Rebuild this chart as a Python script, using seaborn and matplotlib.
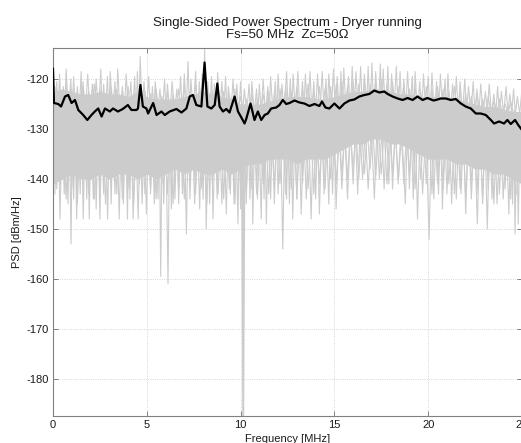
import numpy as np
import pandas as pd
import matplotlib
matplotlib.use("Agg")
import matplotlib.pyplot as plt
import seaborn as sns

# ---------------- data ----------------
# mean PSD (black curve)
mean_f = [0.00, 0.05, 0.28, 0.43, 0.64, 0.81, 0.99, 1.17, 1.35, 1.61, 1.83, 2.05, 2.23, 2.41,
          2.59, 2.77, 3.03, 3.20, 3.46, 3.72, 3.99, 4.18, 4.45, 4.53, 4.66, 4.79, 4.98, 5.07,
          5.34, 5.52, 5.78, 5.96, 6.22, 6.58, 6.85, 7.11, 7.29, 7.46, 7.64, 7.91, 8.08, 8.23,
          8.44, 8.62, 8.76, 8.88, 9.06, 9.24, 9.41, 9.68, 9.86, 10.07, 10.21, 10.30, 10.53,
          10.74, 10.92, 11.10, 11.28, 11.45, 11.63, 11.90, 12.07, 12.25, 12.43, 12.61, 12.87,
          13.14, 13.40, 13.67, 13.94, 14.20, 14.34, 14.52, 14.73, 15.00, 15.27, 15.53, 15.80,
          16.06, 16.33, 16.60, 16.86, 17.13, 17.39, 17.66, 17.84, 18.10, 18.37, 18.64, 18.90,
          19.17, 19.43, 19.70, 19.96, 20.28, 20.41, 20.67, 20.94, 21.20, 21.47, 21.74, 22.00,
          22.27, 22.54, 22.80, 23.07, 23.34, 23.51, 23.78, 24.04, 24.22, 24.40, 24.63, 24.80,
          25.00]
mean_v = [-117.9, -124.8, -125.0, -125.5, -123.5, -123.2, -124.8, -124.2, -126.2, -127.2,
          -128.2, -127.2, -126.5, -125.9, -127.5, -125.9, -126.5, -125.9, -126.5, -126.0,
          -125.2, -126.2, -126.2, -125.9, -121.2, -125.5, -125.9, -126.9, -124.8, -127.2,
          -126.5, -127.2, -126.5, -126.0, -126.7, -125.9, -123.5, -123.2, -125.2, -125.5,
          -116.7, -125.5, -125.9, -125.2, -120.9, -125.5, -126.5, -126.0, -126.7, -123.5,
          -126.5, -127.9, -128.9, -128.0, -124.9, -128.2, -126.5, -128.2, -127.2, -126.9,
          -125.9, -125.7, -125.2, -124.2, -125.0, -124.8, -124.3, -124.7, -124.9, -125.4,
          -125.0, -125.4, -124.5, -125.7, -125.9, -124.9, -125.9, -124.9, -124.3, -124.1,
          -123.5, -123.2, -123.0, -122.3, -122.7, -122.5, -123.0, -123.5, -123.9, -124.2,
          -123.8, -124.2, -123.5, -124.2, -123.8, -124.3, -124.2, -123.9, -123.9, -124.2,
          -124.0, -124.9, -125.5, -125.9, -126.9, -126.9, -127.2, -128.2, -128.9, -128.5,
          -128.9, -128.2, -129.0, -128.2, -129.2, -130.2]

# dense part of the individual spectra (grey band), 0.5 MHz grid
band_f = np.arange(0, 25.01, 0.5)
band_top = [-122.5, -122.0, -122.5, -123.0, -123.0, -122.5, -123.0, -123.0, -123.5, -122.5,
            -123.5, -124.0, -124.0, -124.0, -123.5, -123.0, -122.5, -123.0, -123.5, -124.0,
            -125.0, -125.0, -125.0, -124.5, -124.0, -123.5, -123.5, -123.5, -124.0, -124.0,
            -123.5, -123.0, -122.5, -122.5, -122.0, -122.0, -122.5, -123.0, -123.0, -123.5,
            -123.5, -123.5, -123.5, -124.0, -124.5, -125.0, -125.5, -125.5, -126.0, -126.5,
            -126.5]
band_bottom = [-141, -140, -139, -140, -140, -139, -140, -139, -139, -140,
               -139, -140, -139, -138, -139, -138, -139, -139, -138, -139,
               -138, -137, -137, -136, -136, -136, -137, -136, -136, -136,
               -135, -134, -133, -133, -132, -132, -133, -133, -134, -135,
               -136, -136, -136, -137, -137, -138, -138, -139, -139, -140, -141]

# upper extremes of the individual spectra
top_f = [0.0, 0.2, 0.35, 0.55, 0.7, 0.95, 1.1, 1.3, 1.5, 1.6, 1.85, 2.1, 2.3, 2.55, 2.7, 2.9,
         3.05, 3.3, 3.45, 3.7, 3.9, 4.15, 4.35, 4.5, 4.65, 4.85, 5.1, 5.3, 5.45, 5.7, 5.95,
         6.1, 6.35, 6.6, 6.8, 7.0, 7.2, 7.35, 7.6, 7.8, 7.95, 8.08, 8.25, 8.45, 8.6, 8.78,
         9.0, 9.2, 9.35, 9.6, 9.8, 10.0, 10.2, 10.45, 10.6, 10.85, 11.0, 11.2, 11.45, 11.6,
         11.85, 12.0, 12.2, 12.45, 12.65, 12.8, 13.05, 13.3, 13.45, 13.7, 13.9, 14.1, 14.35,
         14.55, 14.7, 14.95, 15.15, 15.35, 15.5, 15.75, 15.95, 16.15, 16.4, 16.6, 16.8, 17.0,
         17.2, 17.45, 17.6, 17.85, 18.05, 18.3, 18.5, 18.7, 18.9, 19.15, 19.3, 19.55, 19.75,
         20.0, 20.2, 20.45, 20.65, 20.9, 21.05, 21.3, 21.5, 21.7, 21.95, 22.15, 22.4, 22.6,
         22.8, 23.05, 23.25, 23.5, 23.7, 23.9, 24.15, 24.35, 24.55, 24.75, 25.0]
top_v = [-117.5, -120.5, -119.0, -121.5, -118.0, -120.0, -119.5, -121.5, -118.5, -120.5,
         -119.0, -121.0, -120.0, -118.0, -121.0, -119.5, -118.5, -120.5, -118.0, -121.5,
         -119.0, -120.5, -119.5, -118.5, -115.5, -120.5, -119.5, -121.5, -120.5, -122.0,
         -120.0, -121.0, -120.5, -122.0, -119.5, -119.0, -116.5, -120.0, -118.5, -120.5,
         -119.0, -114.0, -120.5, -119.5, -121.0, -118.7, -120.5, -119.5, -121.5, -120.0,
         -121.0, -120.5, -122.0, -121.0, -120.5, -122.0, -121.0, -120.0, -121.5, -119.5,
         -120.5, -119.0, -121.0, -118.5, -120.0, -119.0, -118.5, -120.5, -119.0, -118.5,
         -120.5, -119.0, -118.5, -120.0, -119.0, -118.0, -119.5, -118.5, -117.8, -119.5,
         -117.5, -118.5, -117.5, -119.0, -117.5, -116.8, -118.5, -117.0, -118.0, -117.5,
         -119.0, -117.5, -118.5, -120.0, -118.5, -119.5, -118.5, -120.5, -119.0, -119.5,
         -118.8, -120.5, -119.0, -120.0, -119.0, -121.0, -119.5, -120.5, -120.0, -121.5,
         -120.5, -122.0, -121.0, -122.5, -121.0, -123.0, -121.5, -122.5, -121.5, -123.0,
         -122.0, -123.5, -122.0]

# second layer of upper values (0.3 MHz spacing)
top2_f = np.round(np.arange(0.1, 24.71, 0.3), 2)
top2_v = [-121.5, -122.5, -121.0, -122.0, -123.0, -121.5, -122.5, -121.0, -122.0, -123.0,
          -121.5, -122.0, -122.5, -121.5, -123.0, -122.0, -122.5, -123.0, -122.0, -123.5,
          -122.5, -123.0, -122.0, -121.5, -122.5, -121.0, -122.0, -123.0, -122.5, -121.5,
          -122.5, -123.0, -122.0, -123.5, -124.0, -123.0, -124.0, -123.0, -122.5, -123.0,
          -122.0, -121.5, -122.5, -121.5, -122.0, -121.0, -122.5, -121.5, -122.0, -121.5,
          -121.0, -120.5, -121.5, -120.5, -121.0, -120.0, -121.0, -120.5, -120.0, -121.0,
          -120.5, -121.5, -121.0, -122.0, -121.5, -122.5, -121.5, -122.0, -121.5, -122.0,
          -122.5, -121.5, -122.5, -123.0, -123.5, -123.0, -124.0, -123.5, -124.5, -124.0,
          -125.0, -124.5, -125.5]

# lower extremes (dips) of the individual spectra
dip_f = [0.02, 0.2, 0.37, 0.6, 0.8, 0.96, 1.1, 1.26, 1.45, 1.61, 1.8, 1.93, 2.15, 2.3, 2.5,
         2.7, 2.91, 3.1, 3.3, 3.53, 3.75, 3.97, 4.1, 4.27, 4.54, 4.75, 4.98, 5.2, 5.4, 5.6,
         5.74, 5.9, 6.13, 6.31, 6.5, 6.7, 6.9, 7.11, 7.3, 7.55, 7.82, 8.0, 8.17, 8.35, 8.53,
         8.75, 9.0, 9.24, 9.45, 9.65, 9.86, 10.0, 10.12, 10.16, 10.3, 10.5, 10.65, 10.85, 11.1,
         11.25, 11.37, 11.6, 11.8, 12.0, 12.25, 12.45, 12.6, 12.78, 13.0, 13.23, 13.5, 13.76,
         14.0, 14.2, 14.45, 14.7, 14.9, 15.09, 15.4, 15.7, 16.0, 16.24, 16.5, 16.8, 17.13,
         17.4, 17.65, 17.9, 18.1, 18.4, 18.78, 19.0, 19.2, 19.43, 19.7, 20.05, 20.3, 20.55,
         20.76, 21.0, 21.25, 21.5, 21.75, 22.0, 22.3, 22.62, 22.9, 23.15, 23.4, 23.67, 24.0,
         24.3, 24.5, 24.63, 24.8, 25.0]
dip_v = [-144, -142, -148, -143, -145, -153, -144, -148, -143, -148, -144, -148, -144, -146,
         -148, -143, -148, -145, -143, -148, -145, -148, -144, -148, -148, -145, -147, -143,
         -145, -144, -159.5, -145, -161, -146, -144, -145, -143, -151, -144, -145, -146, -144,
         -150, -145, -148, -144, -145, -147, -143, -145, -149, -146, -190, -190, -145, -144,
         -149, -143, -148, -144, -149, -144, -145, -143, -154, -144, -145, -148, -144, -147,
         -144, -148, -144, -147, -143, -145, -143, -146, -142, -144, -141, -143, -140, -142,
         -144, -140, -142, -141, -142, -141, -145, -142, -144, -148, -143, -152, -144, -143,
         -146, -143, -145, -144, -143, -147, -144, -149, -145, -150, -144, -145, -144, -147,
         -145, -151, -149, -146]

# second layer of lower values (0.3 MHz spacing)
dip2_f = np.round(np.arange(0.1, 24.71, 0.3), 2)
dip2_v = [-143, -141, -144, -142, -145, -141, -143, -144, -142, -145,
          -141, -143, -144, -142, -145, -141, -143, -142, -144, -141,
          -143, -145, -142, -144, -141, -143, -142, -145, -141, -143,
          -144, -142, -145, -141, -143, -142, -144, -141, -143, -142,
          -141, -143, -142, -144, -141, -142, -143, -141, -142, -140,
          -141, -139, -140, -138, -140, -139, -138, -140, -139, -141,
          -139, -140, -141, -139, -142, -140, -141, -143, -141, -142,
          -141, -143, -142, -144, -141, -143, -144, -142, -145, -143,
          -142, -144, -143]

x_ticks = [0, 5, 10, 15, 20, 25]
y_ticks = [-180, -170, -160, -150, -140, -130, -120]

# ---------------- style ----------------
sns.set_theme(style="white")
plt.rcParams["font.family"] = ["Liberation Sans", "DejaVu Sans"]
plt.rcParams["axes.unicode_minus"] = False

GREY = "#cccccc"
AX_COL = "#808080"
TXT = "#1a1a1a"


def spike_frame(tf, tv, base):
    tf = np.asarray(tf, float)
    tv = np.asarray(tv, float)
    mids = (tf[:-1] + tf[1:]) / 2.0
    xs, ys = [], []
    for i in range(len(tf)):
        xs.append(tf[i]); ys.append(tv[i])
        if i < len(tf) - 1:
            xs.append(mids[i]); ys.append(base)
    return pd.DataFrame({"f": xs, "v": ys})


fig = plt.figure(figsize=(5.21, 4.43), dpi=100)
ax = fig.add_axes([53 / 521, 27 / 443, 469 / 521, 368 / 443])

ax.fill_between(band_f, band_bottom, band_top, color=GREY, linewidth=0, zorder=2)
for tf, tv, base in [(top_f, top_v, -127.0), (top2_f, top2_v, -127.0),
                     (dip_f, dip_v, -130.0), (dip2_f, dip2_v, -130.0)]:
    sns.lineplot(data=spike_frame(tf, tv, base), x="f", y="v", sort=False, estimator=None,
                 color=GREY, linewidth=0.8, ax=ax, zorder=2)

mean_df = pd.DataFrame({"f": mean_f, "v": mean_v})
sns.lineplot(data=mean_df, x="f", y="v", sort=False, estimator=None, color="black",
             linewidth=1.6, ax=ax, zorder=3)

ax.set_xlim(0, 25)
ax.set_ylim(-187.4, -113.8)
ax.set_xticks(x_ticks)
ax.set_yticks(y_ticks)
ax.grid(True, linestyle=":", color="#c8c8c8", linewidth=0.6)
ax.set_axisbelow(True)
for s in ax.spines.values():
    s.set_color(AX_COL)
    s.set_linewidth(0.8)
ax.tick_params(direction="in", length=3.5, width=0.7, color=AX_COL, labelsize=8,
               labelcolor=TXT, top=True, right=True, bottom=True, left=True, pad=3)

ax.set_xlabel("Frequency [MHz]", fontsize=8, color=TXT, labelpad=2.5)
ax.set_ylabel("PSD [dBm/Hz]", fontsize=8, color=TXT, labelpad=3)
ax.set_title("Single-Sided Power Spectrum - Dryer running\nFs=50 MHz  Zc=50\u03a9",
             fontsize=9.5, color=TXT, linespacing=1.0, pad=7)

fig.savefig("out.png", dpi=100)
